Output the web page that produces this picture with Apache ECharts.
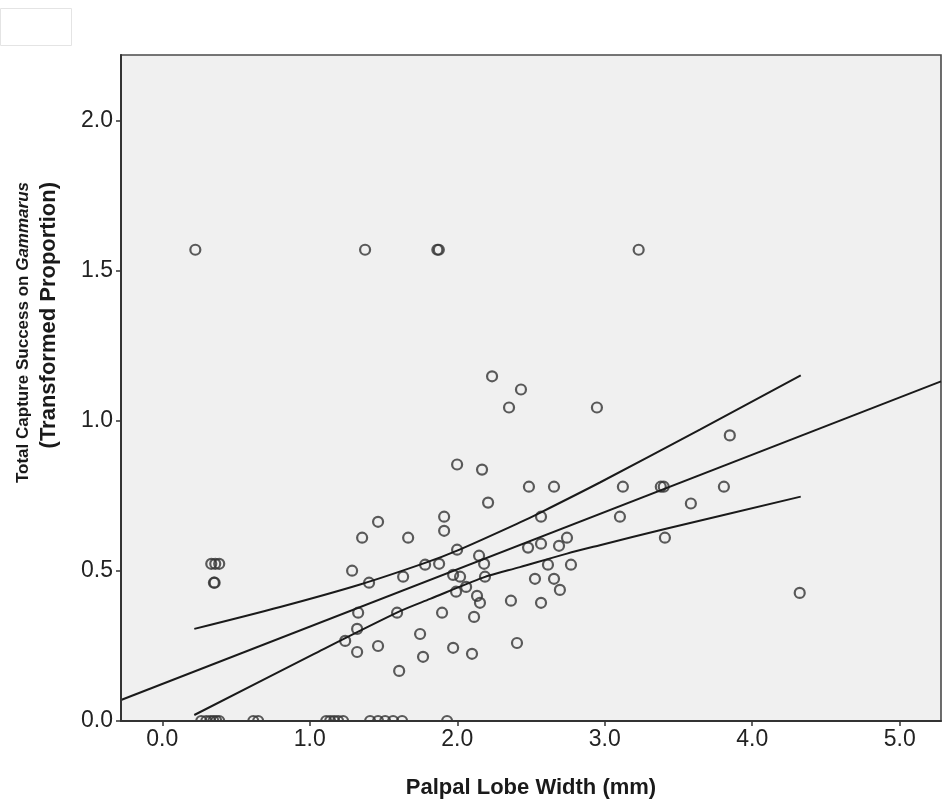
<!DOCTYPE html>
<html>
<head>
<meta charset="utf-8">
<script src="https://cdn.jsdelivr.net/npm/echarts@6/dist/echarts.min.js"></script>
<style>
html,body{margin:0;padding:0;background:#fff;}
#chart{width:943px;height:808px;}
</style>
</head>
<body>
<div id="chart"></div>
<script>
// ---- data ----
const xTickValues = [0, 1, 2, 3, 4, 5];
const yTickValues = [0, 0.5, 1, 1.5, 2];

// points at zero capture success
const zeroRowX = [0.264, 0.298, 0.325, 0.346, 0.366, 0.386, 0.617, 0.650, 1.111, 1.138, 1.165, 1.192, 1.226, 1.409, 1.463, 1.511, 1.565, 1.626, 1.931];
// points at full capture success (transformed = pi/2)
const topRowX = [0.224, 1.375, 1.865, 1.875, 3.23];
const topRowY = 1.5708;

const otherX = [2.236, 2.432, 2.351, 2.947, 3.848, 3.123, 3.38, 3.40, 3.808, 3.103, 3.584, 3.408, 4.322,
  2.168, 2.486, 2.656, 2.209, 2.568, 2.744, 2.480, 2.568, 2.690, 2.615, 2.771, 2.527, 2.656, 2.696, 2.364, 2.568, 2.405,
  1.463, 1.355, 1.667, 1.911, 1.911, 1.287, 1.402, 1.633, 1.782, 1.877, 1.999, 2.148, 2.182, 1.972, 2.019, 2.188,
  2.060, 1.992, 2.134, 2.154, 1.328, 1.592, 1.897, 2.114, 1.321, 1.240, 1.748, 1.321, 1.463, 1.768, 1.972, 2.100, 1.606,
  0.332, 0.359, 0.386, 0.350, 0.355, 1.999];
const otherY = [1.149, 1.105, 1.045, 1.045, 0.952, 0.781, 0.781, 0.781, 0.781, 0.681, 0.725, 0.611, 0.427,
  0.838, 0.781, 0.781, 0.728, 0.681, 0.611, 0.578, 0.591, 0.584, 0.521, 0.521, 0.474, 0.474, 0.437, 0.401, 0.394, 0.260,
  0.664, 0.611, 0.611, 0.681, 0.634, 0.501, 0.461, 0.481, 0.521, 0.524, 0.571, 0.551, 0.524, 0.487, 0.481, 0.481,
  0.447, 0.431, 0.417, 0.394, 0.361, 0.361, 0.361, 0.347, 0.307, 0.267, 0.290, 0.230, 0.250, 0.214, 0.244, 0.224, 0.167,
  0.524, 0.524, 0.524, 0.461, 0.461, 0.855];

// fitted regression line and 95% CI of the mean
const fitX = [-0.28, 5.28];
const fitY = [0.070, 1.132];
const upperX = [0.217, 0.799, 1.341, 1.782, 1.999, 2.425, 2.561, 2.967, 3.645, 4.329];
const upperY = [0.307, 0.380, 0.455, 0.527, 0.568, 0.662, 0.694, 0.795, 0.971, 1.152];
const lowerX = [0.217, 1.023, 1.612, 1.816, 2.175, 2.425, 2.744, 2.967, 3.408, 4.329];
const lowerY = [0.020, 0.222, 0.366, 0.407, 0.478, 0.513, 0.558, 0.586, 0.640, 0.748];

// ---- build series data ----
const pts = [];
zeroRowX.forEach(x => pts.push([x, 0]));
topRowX.forEach(x => pts.push([x, topRowY]));
otherX.forEach((x, i) => pts.push([x, otherY[i]]));
const zip = (a, b) => a.map((v, i) => [v, b[i]]);

const FONT = '"Liberation Sans", Arial, sans-serif';
const chart = echarts.init(document.getElementById('chart'), null, {renderer: 'canvas'});
chart.setOption({
  animation: false,
  backgroundColor: '#ffffff',
  grid: {
    left: 121, top: 55, right: 2, bottom: 87,
    show: true, backgroundColor: '#f0f0f0', borderColor: '#4a4a4a', borderWidth: 1.6
  },
  xAxis: {
    type: 'value', min: -0.28, max: 5.28, z: 10,
    name: 'Palpal Lobe Width (mm)', nameLocation: 'middle', nameGap: 56,
    nameTextStyle: {fontFamily: FONT, fontWeight: 'bold', fontSize: 22, color: '#1a1a1a'},
    axisLine: {show: true, onZero: false, lineStyle: {color: '#333', width: 2}},
    axisTick: {show: true, length: 5, customValues: xTickValues, lineStyle: {color: '#333', width: 1.5}},
    axisLabel: {show: true, customValues: xTickValues, margin: 7, fontFamily: FONT, fontSize: 23, color: '#222',
      formatter: v => v.toFixed(1)},
    splitLine: {show: false}
  },
  yAxis: {
    type: 'value', min: 0, max: 2.22, z: 10,
    axisLine: {show: true, onZero: false, lineStyle: {color: '#333', width: 2}},
    axisTick: {show: true, length: 5, customValues: yTickValues, lineStyle: {color: '#333', width: 1.5}},
    axisLabel: {show: true, customValues: yTickValues, margin: 8, fontFamily: FONT, fontSize: 23, color: '#222',
      formatter: v => v.toFixed(1)},
    splitLine: {show: false}
  },
  graphic: [
    {type: 'rect', left: 0, top: 8, shape: {width: 71, height: 37},
      style: {fill: '#ffffff', stroke: '#e4e4e4', lineWidth: 1}},
    // hides the lower halves of the markers sitting on the x axis (outside the plot area)
    {type: 'rect', z: 5, silent: true, shape: {x: 121, y: 722, width: 822, height: 8},
      style: {fill: '#ffffff'}},
    {type: 'text', x: 10, y: 182, rotation: Math.PI / 2,
      style: {
        text: '{a|Total Capture Success on }{b|Gammarus}\n{c|(Transformed Proportion)}',
        align: 'right', verticalAlign: 'top', fill: '#1a1a1a',
        rich: {
          a: {fontFamily: FONT, fontWeight: 'bold', fontSize: 17, lineHeight: 26, fill: '#1a1a1a'},
          b: {fontFamily: FONT, fontWeight: 'bold', fontStyle: 'italic', fontSize: 17, lineHeight: 26, fill: '#1a1a1a'},
          c: {fontFamily: FONT, fontWeight: 'bold', fontSize: 22, lineHeight: 26, fill: '#1a1a1a'}
        }
      }}
  ],
  series: [
    {type: 'scatter', data: pts, symbol: 'circle', symbolSize: 10, clip: true,
      itemStyle: {color: 'transparent', borderColor: '#333', borderWidth: 2.2}},
    {type: 'line', data: zip(fitX, fitY), showSymbol: false, symbol: 'none',
      lineStyle: {color: '#1a1a1a', width: 2}},
    {type: 'line', data: zip(upperX, upperY), showSymbol: false, symbol: 'none', smooth: 0.3,
      lineStyle: {color: '#1a1a1a', width: 2}},
    {type: 'line', data: zip(lowerX, lowerY), showSymbol: false, symbol: 'none', smooth: 0.3,
      lineStyle: {color: '#1a1a1a', width: 2}}
  ]
});
</script>
</body>
</html>
